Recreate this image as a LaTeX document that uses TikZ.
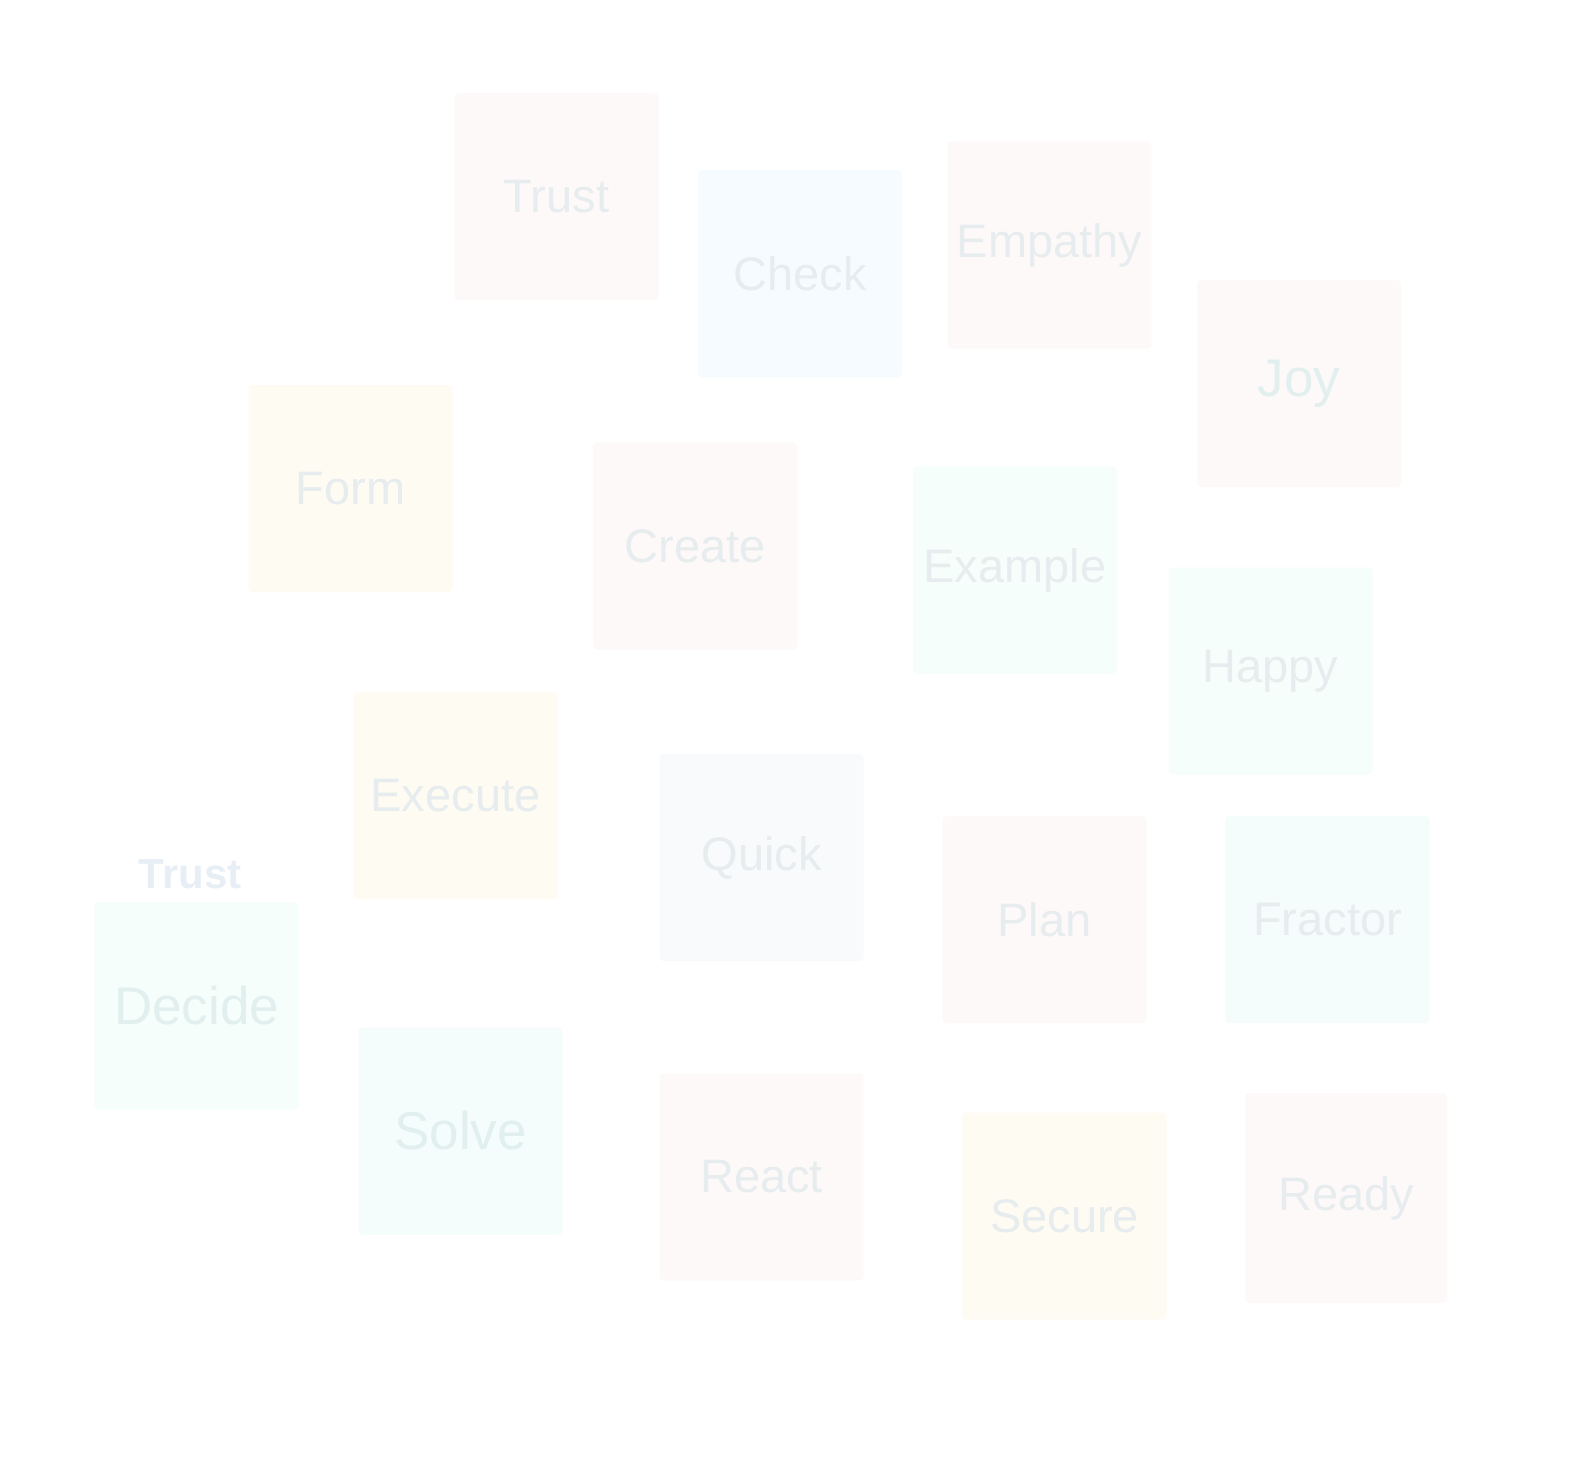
\documentclass[tikz,border=0pt]{standalone}
\usepackage{fontspec}
\setmainfont{Liberation Sans}
\definecolor{pinkn}{HTML}{FEF9F9}
\definecolor{bluen}{HTML}{F5FBFE}
\definecolor{yelln}{HTML}{FEFBF2}
\definecolor{greenn}{HTML}{F5FEFA}
\definecolor{tealn}{HTML}{F4FCFC}
\definecolor{grayn}{HTML}{F8FAFB}
\definecolor{txtc}{HTML}{E7ECEF}
\definecolor{txtt}{HTML}{E2EFEF}
\definecolor{lblc}{HTML}{E8EEF5}
\begin{document}
\begin{tikzpicture}[x=1pt,y=-1pt,
  note/.style={rounded corners=4pt, minimum width=204pt, minimum height=207pt, inner sep=0pt,
    font=\fontsize{47}{50}\selectfont, text=txtc},
  big/.style={font=\fontsize{53}{56}\selectfont, text=txtt}]
\useasboundingbox[fill=white] (0,0) rectangle (1584,1461);
\node[note, fill=pinkn] (trust) at (556.5,196.5) {Trust};
\node[note, fill=bluen] (check) at (800,273.5) {Check};
\node[note, fill=pinkn] (empathy) at (1049.5,245) {Empathy};
\node[note, fill=pinkn, big, text=txtt] (joy) at (1299,383.5) {\raisebox{-6pt}{Joy}};
\node[note, fill=yelln] (form) at (350.5,488.5) {Form};
\node[note, fill=pinkn] (create) at (695,546) {Create};
\node[note, fill=greenn] (example) at (1015,570) {Example};
\node[note, fill=greenn] (happy) at (1270.5,671) {Happy};
\node[note, fill=yelln] (execute) at (455.5,795.5) {Execute};
\node[note, fill=grayn] (quick) at (761.5,857.5) {Quick};
\node[note, fill=pinkn] (plan) at (1044.5,919.5) {Plan};
\node[note, fill=tealn] (fractor) at (1327.5,919.5) {Fractor};
\node[note, fill=greenn, big] (decide) at (196.5,1006) {Decide};
\node[note, fill=tealn, big] (solve) at (460.5,1131) {Solve};
\node[note, fill=pinkn] (react) at (761.5,1177) {React};
\node[note, fill=yelln] (secure) at (1064.5,1216) {Secure};
\node[note, fill=pinkn, minimum width=202pt, minimum height=210pt] (ready) at (1346,1198) {Ready};
\node[font=\bfseries\fontsize{42}{46}\selectfont, text=lblc, inner sep=0pt] (trustlbl) at (190,874) {Trust};
\end{tikzpicture}
\end{document}
